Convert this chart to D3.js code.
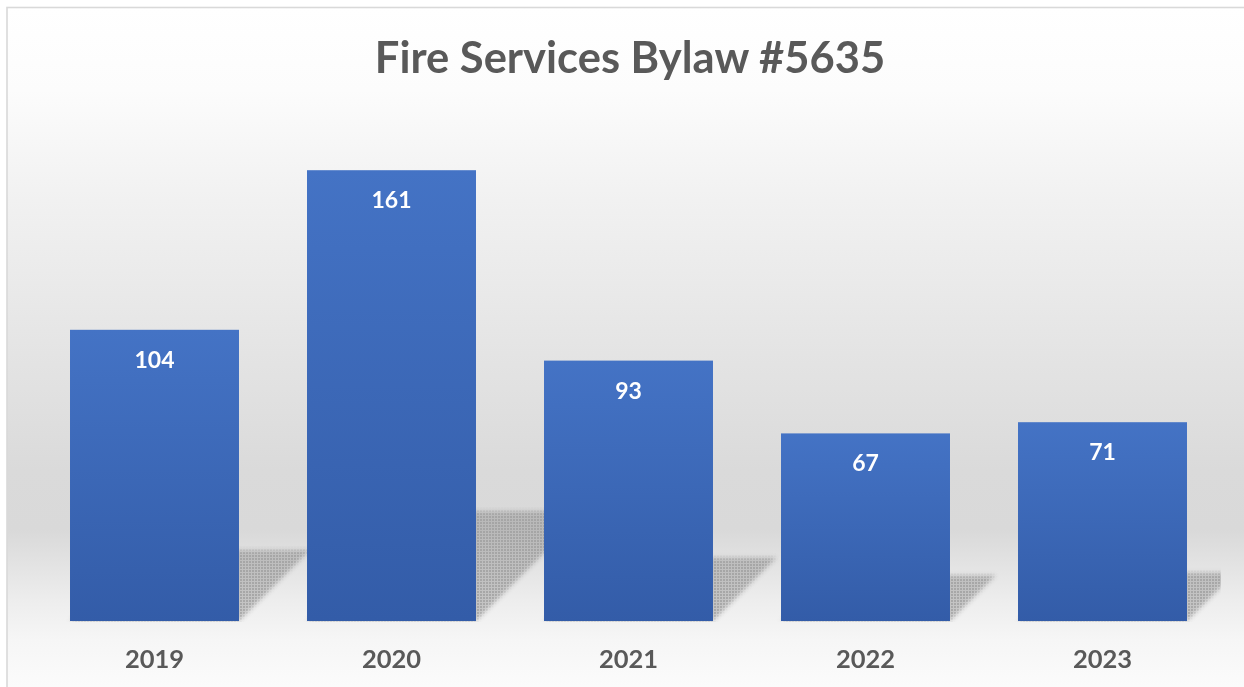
<!DOCTYPE html>
<html>
<head>
<meta charset="utf-8">
<script src="https://cdn.jsdelivr.net/npm/d3@7"></script>
<style>
  html, body { margin: 0; padding: 0; background: #ffffff; }
  svg { display: block; }
</style>
</head>
<body>
<svg id="chart" width="1244" height="687"></svg>
<script>
// Yearly counts for the bylaw
const years = ["2019", "2020", "2021", "2022", "2023"];
const counts = [104, 161, 93, 67, 71];
const chartTitle = "Fire Services Bylaw #5635";

const W = 1244, H = 687;
const plot = { left: 36, right: 1221, top: 117, bottom: 621 };

const svg = d3.select("#chart");
const defs = svg.append("defs");

// Chart-area background: white at the top, grey toward the floor, light again at the bottom
const bg = defs.append("linearGradient")
  .attr("id", "bgGrad").attr("gradientUnits", "userSpaceOnUse")
  .attr("x1", 0).attr("y1", 7).attr("x2", 0).attr("y2", H);
[[7, "#ffffff"], [90, "#fcfcfc"], [200, "#f1f1f1"], [330, "#e6e6e6"],
 [470, "#dadada"], [530, "#d9d9d9"], [600, "#ededed"], [640, "#f6f6f6"], [H, "#fbfbfb"]]
  .forEach(([y, c]) => bg.append("stop").attr("offset", (y - 7) / (H - 7)).attr("stop-color", c));

// Bar fill: lighter blue on top, deeper blue at the base
const barGrad = defs.append("linearGradient")
  .attr("id", "barGrad").attr("x1", 0).attr("y1", 0).attr("x2", 0).attr("y2", 1);
barGrad.append("stop").attr("offset", 0).attr("stop-color", "#4473c5");
barGrad.append("stop").attr("offset", 1).attr("stop-color", "#335ca8");

// Soft shadow with a coarse dither
const blur = defs.append("filter").attr("id", "shadowBlur")
  .attr("x", "-20%").attr("y", "-20%").attr("width", "140%").attr("height", "140%");
blur.append("feGaussianBlur").attr("stdDeviation", 2.2);

const dither = defs.append("pattern").attr("id", "dither")
  .attr("patternUnits", "userSpaceOnUse").attr("width", 3).attr("height", 3);
dither.append("rect").attr("width", 3).attr("height", 3).attr("fill", "#ffffff");
dither.append("rect").attr("x", 2).attr("width", 1).attr("height", 3).attr("fill", "#9a9a9a");
dither.append("rect").attr("y", 2).attr("width", 3).attr("height", 1).attr("fill", "#9a9a9a");
const mask = defs.append("mask").attr("id", "ditherMask")
  .attr("maskUnits", "userSpaceOnUse").attr("x", 0).attr("y", 0).attr("width", W).attr("height", H);
mask.append("rect").attr("width", W).attr("height", H).attr("fill", "url(#dither)");

defs.append("clipPath").attr("id", "plotClip")
  .append("rect").attr("x", plot.left).attr("y", 0)
  .attr("width", plot.right - plot.left).attr("height", plot.bottom + 1);

// Chart area with its thin grey border
svg.append("rect")
  .attr("x", 7).attr("y", 7.5).attr("width", W + 20).attr("height", H + 20)
  .attr("fill", "url(#bgGrad)").attr("stroke", "#d9d9d9").attr("stroke-width", 1.6);

const x = d3.scaleBand().domain(years).range([plot.left, plot.right])
  .paddingInner(0.287).paddingOuter(0.1435);
const y = d3.scaleLinear().domain([0, 180]).range([plot.bottom, plot.top]);

const data = years.map((yr, i) => ({ year: yr, value: counts[i] }));

// Shadows cast back and to the right onto the floor
const shadowK = 0.244;
svg.append("g").attr("clip-path", "url(#plotClip)")
  .append("g").attr("mask", "url(#ditherMask)")
  .selectAll("polygon").data(data).join("polygon")
  .attr("filter", "url(#shadowBlur)")
  .attr("fill", "#9c9c9c")
  .attr("opacity", 0.85)
  .attr("points", d => {
    const x0 = x(d.year), x1 = x0 + x.bandwidth();
    const d0 = (y(0) - y(d.value)) * shadowK;
    const b = y(0);
    return [[x0, b], [x1, b], [x1 + d0, b - d0], [x0 + d0, b - d0]].map(p => p.join(",")).join(" ");
  });

// Bars
svg.append("g").selectAll("rect").data(data).join("rect")
  .attr("x", d => x(d.year))
  .attr("y", d => y(d.value))
  .attr("width", x.bandwidth())
  .attr("height", d => y(0) - y(d.value))
  .attr("fill", "url(#barGrad)");

// Value labels inside the bar tops
svg.append("g").selectAll("text").data(data).join("text")
  .attr("x", d => x(d.year) + x.bandwidth() / 2)
  .attr("y", d => y(d.value) + 38)
  .attr("text-anchor", "middle")
  .attr("font-family", "Lato, 'Open Sans', sans-serif")
  .attr("font-weight", 700)
  .attr("font-size", 23)
  .attr("fill", "#ffffff")
  .text(d => d.value);

// Category axis labels
const xAxis = svg.append("g")
  .attr("transform", `translate(0,${plot.bottom})`)
  .call(d3.axisBottom(x).tickSize(0).tickPadding(47));
xAxis.select(".domain").remove();
xAxis.selectAll("text")
  .attr("font-family", "Lato, 'Open Sans', sans-serif")
  .attr("font-weight", 700)
  .attr("font-size", 25.5)
  .attr("fill", "#595959")
  .attr("dy", 0);

// Title
svg.append("text")
  .attr("x", 630).attr("y", 73)
  .attr("text-anchor", "middle")
  .attr("font-family", "Lato, 'Open Sans', sans-serif")
  .attr("font-weight", 700)
  .attr("font-size", 43.5)
  .attr("fill", "#595959")
  .text(chartTitle);
</script>
</body>
</html>
